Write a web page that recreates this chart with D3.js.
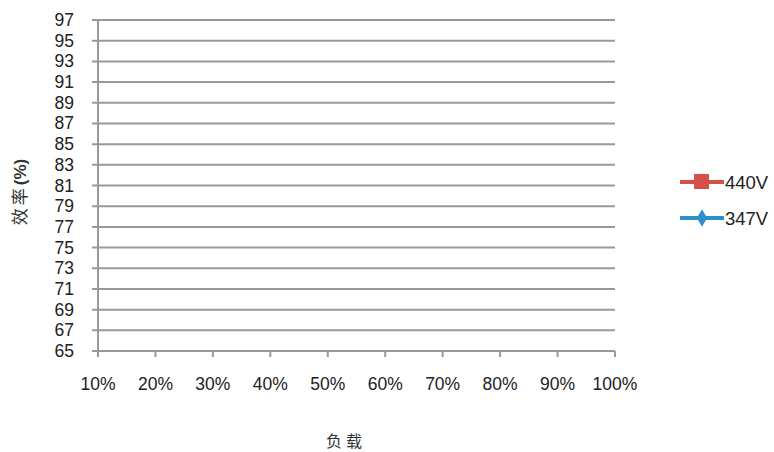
<!DOCTYPE html>
<html><head><meta charset="utf-8">
<script src="https://cdn.jsdelivr.net/npm/d3@7"></script>
<style>body{margin:0;background:#fff;}svg{display:block;}</style>
</head><body>
<script>
const categories = ["10%","20%","30%","40%","50%","60%","70%","80%","90%","100%"];
const yTicks = [65,67,69,71,73,75,77,79,81,83,85,87,89,91,93,95,97];
const series440 = [null,null,null,null,null,null,null,null,null,null];
const series347 = [null,null,null,null,null,null,null,null,null,null];
const seriesNames = ["440V","347V"];
const seriesColors = ["#d6504b","#2f8fcb"];

const W=774,H=452;
const FONT="Liberation Sans, Arial, sans-serif";
const svg=d3.select("body").append("svg").attr("width",W).attr("height",H);

const x=d3.scalePoint().domain(categories).range([98,615]);
const y=d3.scaleLinear().domain([65,97]).range([351,20]);

const g=svg.append("g");
g.selectAll("line.grid").data(yTicks).join("line")
 .attr("x1",92).attr("x2",615).attr("y1",d=>y(d)).attr("y2",d=>y(d))
 .attr("stroke","#999").attr("stroke-width",2);
g.append("line").attr("x1",98).attr("x2",98).attr("y1",y(97)).attr("y2",y(65)+5).attr("stroke","#999").attr("stroke-width",2);
g.selectAll("line.xt").data(categories).join("line")
 .attr("x1",d=>x(d)).attr("x2",d=>x(d)).attr("y1",y(65)).attr("y2",y(65)+6)
 .attr("stroke","#999").attr("stroke-width",2);

g.selectAll("text.yl").data(yTicks).join("text")
 .attr("x",74).attr("y",d=>y(d)+6).attr("text-anchor","end")
 .attr("font-family",FONT).attr("font-size",17.5).attr("fill","#222").text(d=>d);
g.selectAll("text.xl").data(categories).join("text")
 .attr("x",d=>x(d)).attr("y",390).attr("text-anchor","middle")
 .attr("font-family",FONT).attr("font-size",17.5).attr("fill","#222").text(d=>d);

const line=d3.line().defined(d=>d!=null).x((d,i)=>x(categories[i])).y(d=>y(d));
[series440,series347].forEach((s,k)=>{
  svg.append("path").datum(s).attr("d",line).attr("fill","none").attr("stroke",seriesColors[k]).attr("stroke-width",3);
});

// axis titles
const yt=svg.append("text").attr("transform","translate(26,192) rotate(-90)").attr("text-anchor","middle")
 .attr("font-size",17).attr("fill","#333");
yt.append("tspan").attr("font-family","Noto Sans CJK SC").attr("letter-spacing",3).text("效率");
yt.append("tspan").attr("font-family",FONT).attr("font-weight","bold").text("(%)");
svg.append("text").attr("x",346).attr("y",447).attr("text-anchor","middle")
 .attr("font-family","Noto Sans CJK SC").attr("font-size",16).attr("fill","#333").attr("letter-spacing",4).text("负载");

// legend
const lg=svg.append("g");
seriesNames.forEach((n,i)=>{
  const cy=182+i*36;
  lg.append("line").attr("x1",680).attr("x2",724).attr("y1",cy).attr("y2",cy).attr("stroke",seriesColors[i]).attr("stroke-width",4);
  if(i===0) lg.append("rect").attr("x",694).attr("y",cy-8).attr("width",15).attr("height",15).attr("fill",seriesColors[i]);
  else lg.append("path").attr("d",d3.symbol(d3.symbolDiamond,90)()).attr("transform",`translate(702,${cy})`).attr("fill",seriesColors[i]);
  lg.append("text").attr("x",725).attr("y",cy+7).attr("font-family",FONT).attr("font-size",18.5).attr("fill","#222").text(n);
});
</script>
</body></html>
